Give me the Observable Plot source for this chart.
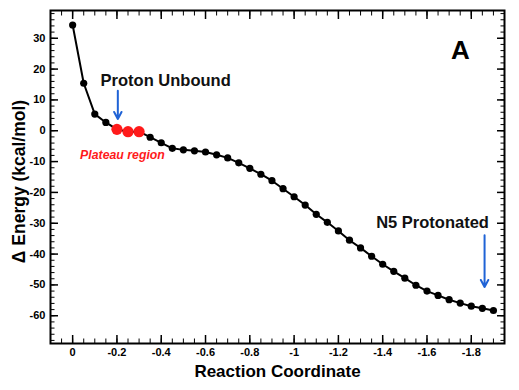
<!DOCTYPE html>
<html><head><meta charset="utf-8">
<script src="https://cdn.jsdelivr.net/npm/d3@7"></script>
<script src="https://cdn.jsdelivr.net/npm/@observablehq/plot@0.6"></script>
<style>
body{margin:0;background:#fff}
#chart svg{font-family:"Liberation Sans",Arial,Helvetica,sans-serif}
</style>
</head><body><div id="chart"></div>
<script>
// Reaction coordinate (x) and relative energy (kcal/mol)
const coord = [0,-0.05,-0.1,-0.15,-0.2,-0.25,-0.3,-0.35,-0.4,-0.45,-0.5,-0.55,-0.6,-0.65,-0.7,-0.75,-0.8,-0.85,-0.9,-0.95,-1.0,-1.05,-1.1,-1.15,-1.2,-1.25,-1.3,-1.35,-1.4,-1.45,-1.5,-1.55,-1.6,-1.65,-1.7,-1.75,-1.8,-1.85,-1.9];
const energy = [34.3,15.4,5.4,2.7,0.45,-0.3,-0.3,-2.1,-3.9,-5.7,-6.2,-6.5,-6.9,-7.8,-8.8,-10.4,-12.2,-14.1,-16.2,-18.8,-21.4,-24.1,-27.1,-29.7,-32.5,-35.5,-38.0,-40.7,-43.3,-45.6,-47.8,-50.1,-52.0,-53.4,-54.8,-55.9,-56.9,-57.6,-58.3];

// Plateau region points (highlighted)
const plateauCoord = [-0.2,-0.25,-0.3];
const plateauEnergy = [0.45,-0.3,-0.3];

// Tick values
const xTicks = [0,-0.2,-0.4,-0.6,-0.8,-1,-1.2,-1.4,-1.6,-1.8];
const xTickLabels = ["0","-0.2","-0.4","-0.6","-0.8","-1","-1.2","-1.4","-1.6","-1.8"];
const xMinorTicks = [0.1,0.05,0,-0.05,-0.1,-0.15,-0.2,-0.25,-0.3,-0.35,-0.4,-0.45,-0.5,-0.55,-0.6,-0.65,-0.7,-0.75,-0.8,-0.85,-0.9,-0.95,-1,-1.05,-1.1,-1.15,-1.2,-1.25,-1.3,-1.35,-1.4,-1.45,-1.5,-1.55,-1.6,-1.65,-1.7,-1.75,-1.8,-1.85,-1.9,-1.95];
const yTicks = [30,20,10,0,-10,-20,-30,-40,-50,-60];
const yTickLabels = ["30","20","10","0","-10","-20","-30","-40","-50","-60"];
const yMinorTicks = [38,36,34,32,30,28,26,24,22,20,18,16,14,12,10,8,6,4,2,0,-2,-4,-6,-8,-10,-12,-14,-16,-18,-20,-22,-24,-26,-28,-30,-32,-34,-36,-38,-40,-42,-44,-46,-48,-50,-52,-54,-56,-58,-60,-62,-64,-66,-68];

// Annotations
const noteText = ["Proton Unbound","N5 Protonated"];
const noteX = [-0.42,-1.625];
const noteY = [16.1,-29.8];
const arrowX = [-0.204,-1.86];
const arrowY1 = [13.0,-33.9];
const arrowY2 = [3.8,-50.7];
const plateauLabel = "Plateau region";
const plateauLabelX = -0.225;
const plateauLabelY = -7.9;
const panelLabel = "A";
const xLabel = "Reaction Coordinate";
const yLabel = "\u0394 Energy (kcal/mol)";

const pts = coord.map((c,i)=>({x:c,y:energy[i]}));
const plateau = plateauCoord.map((c,i)=>({x:c,y:plateauEnergy[i]}));
const notes = noteText.map((t,i)=>({t,x:noteX[i],y:noteY[i]}));
const arrows = arrowX.map((x,i)=>({x,y1:arrowY1[i],y2:arrowY2[i]}));
const xFmt = d => xTickLabels[xTicks.indexOf(d)] ?? String(d);
const yFmt = d => yTickLabels[yTicks.indexOf(d)] ?? String(d);
const blue = "#1f63d6";
const red = "#ff1a1a";

const chart = Plot.plot({
  width: 519,
  height: 390,
  marginLeft: 50,
  marginRight: 15,
  marginTop: 10,
  marginBottom: 47,
  style: {fontFamily: "Liberation Sans, Arial, sans-serif", fontSize: "11px", fontWeight: "bold", color: "#000", background: "#fff"},
  x: {domain: [0.1, -1.95]},
  y: {domain: [-69, 39]},
  marks: [
    // minor ticks (inward)
    Plot.axisX(xMinorTicks, {anchor: "bottom", tickSize: -4.5, tickFormat: () => "", label: null, strokeWidth: 1}),
    Plot.axisX(xMinorTicks, {anchor: "top", tickSize: -4.5, tickFormat: () => "", label: null, strokeWidth: 1}),
    Plot.axisY(yMinorTicks, {anchor: "left", tickSize: -4.5, tickFormat: () => "", label: null, strokeWidth: 1}),
    Plot.axisY(yMinorTicks, {anchor: "right", tickSize: -4.5, tickFormat: () => "", label: null, strokeWidth: 1}),
    // major ticks with labels
    Plot.axisX(xTicks, {anchor: "bottom", tickSize: -8, tickPadding: 13, tickFormat: xFmt, label: null, strokeWidth: 1.5, fontSize: 11, fontWeight: "bold"}),
    Plot.axisX(xTicks, {anchor: "top", tickSize: -8, tickFormat: () => "", label: null, strokeWidth: 1.5}),
    Plot.axisY(yTicks, {anchor: "left", tickSize: -8, tickPadding: 13, tickFormat: yFmt, label: null, strokeWidth: 1.5, fontSize: 11, fontWeight: "bold"}),
    Plot.axisY(yTicks, {anchor: "right", tickSize: -8, tickFormat: () => "", label: null, strokeWidth: 1.5}),
    Plot.frame({stroke: "#000", strokeWidth: 2}),
    // data
    Plot.line(pts, {x: "x", y: "y", stroke: "#000", strokeWidth: 2}),
    Plot.dot(pts, {x: "x", y: "y", r: 3.6, fill: "#000", stroke: null}),
    Plot.dot(plateau, {x: "x", y: "y", r: 5.6, fill: red, stroke: null}),
    // annotations
    Plot.arrow(arrows, {x: "x", x1: "x", x2: "x", y1: "y1", y2: "y2", stroke: blue, strokeWidth: 2, headLength: 6, headAngle: 55}),
    Plot.text(notes, {x: "x", y: "y", text: "t", fontSize: 16.5, fontWeight: "bold", fill: "#111"}),
    Plot.text([plateauLabel], {x: () => plateauLabelX, y: () => plateauLabelY, text: d => d, fontSize: 12.3, fontWeight: "bold", fontStyle: "italic", fill: red}),
    Plot.text([panelLabel], {frameAnchor: "top-right", textAnchor: "middle", lineAnchor: "middle", dx: -44, dy: 40.5, text: d => d, fontSize: 26, fontWeight: "bold", fill: "#000"}),
    Plot.text([xLabel], {frameAnchor: "bottom", textAnchor: "middle", lineAnchor: "middle", dy: 28.5, text: d => d, fontSize: 17, fontWeight: "bold", fill: "#000"}),
    Plot.text([yLabel], {frameAnchor: "left", textAnchor: "middle", lineAnchor: "middle", dx: -31.5, dy: 4.5, rotate: -90, text: d => d, fontSize: 17.5, fontWeight: "bold", fill: "#000"})
  ]
});
document.getElementById("chart").appendChild(chart);
</script>
</body></html>
